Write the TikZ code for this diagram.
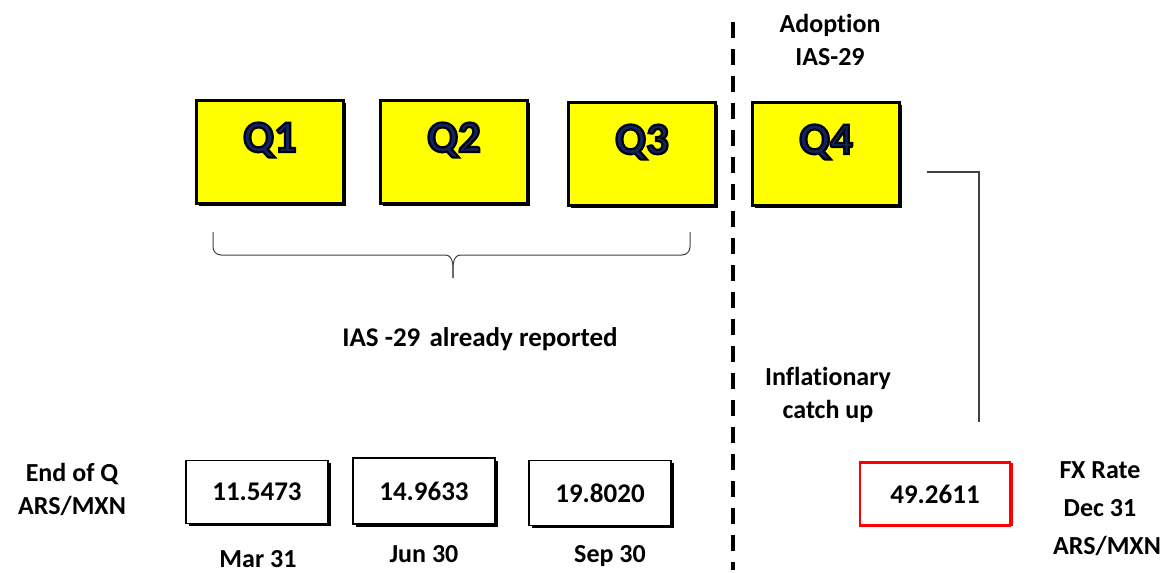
\documentclass[tikz,border=0pt]{standalone}
\usepackage{fontspec}
\setmainfont{Carlito}[Ligatures=NoCommon]
\usetikzlibrary{shadows}
\definecolor{qnavy}{RGB}{16,36,96}
\definecolor{qyellow}{RGB}{255,255,0}
\tikzset{
  qbox/.style={draw=black, line width=3pt, fill=qyellow, minimum width=147pt, minimum height=103pt, inner sep=0pt,
    drop shadow={shadow xshift=2.5pt, shadow yshift=-2.5pt, fill=black, opacity=1},
    font=\bfseries\fontsize{45}{45}\selectfont, text height=28pt, text depth=28pt},
  vbox/.style={draw=black, line width=1.5pt, fill=white, minimum width=142pt, minimum height=63pt, inner sep=0pt,
    drop shadow={shadow xshift=2.5pt, shadow yshift=-2.5pt, fill=black, opacity=1},
    font=\bfseries\fontsize{27}{27}\selectfont},
  rbox/.style={draw=red, line width=2.2pt, fill=white, minimum width=150pt, minimum height=63pt, inner sep=0pt,
    drop shadow={shadow xshift=2.5pt, shadow yshift=0pt, fill=red, opacity=1},
    font=\bfseries\fontsize{27}{27}\selectfont},
  lbl/.style={align=center, inner sep=0pt, font=\bfseries\fontsize{26}{33}\selectfont},
  thinline/.style={draw=black!75, line width=1.2pt},
  divider/.style={draw=black, line width=4pt, dash pattern=on 16pt off 11pt},
}
\newcommand{\qtext}[1]{\textcolor{qnavy}{\special{pdf:literal direct 2 Tr 2.2 w 0 0 0 RG}#1\special{pdf:literal direct 0 Tr}}}
\begin{document}
\begin{tikzpicture}[x=1pt,y=-1pt]
\useasboundingbox (0,0) rectangle (1173,573);
% quarter boxes
\node[qbox] (q1) at (270,152) {\qtext{Q1}};
\node[qbox] (q2) at (454,152) {\qtext{Q2}};
\node[qbox] (q3) at (642,154) {\qtext{Q3}};
\node[qbox] (q4) at (826,154) {\qtext{Q4}};
% divider
\coordinate (dtop) at (733,22);
\coordinate (dbot) at (733,570);
\draw[divider] (dtop) -- (dbot);
% adoption label
\node[lbl] (adopt) at (830,40) {Adoption\\IAS-29};
% brace
\coordinate (bl) at (213,232);
\coordinate (br) at (690,232);
\coordinate (btip) at (453,278);
\draw[thinline, line width=1pt] (bl) -- (213,247) to[out=-90,in=180] (221,255) -- (445,255) to[out=0,in=90] (btip);
\draw[thinline, line width=1pt] (br) -- (690,247) to[out=-90,in=0] (682,255) -- (461,255) to[out=180,in=90] (btip);
\node[lbl, font=\bfseries\fontsize{27}{33}\selectfont] (reported) at (480,339) {IAS -29\hspace{3pt} already reported};
% inflationary
\node[lbl] (infl) at (828,395) {Inflationary\\catch up};
% connector from Q4 side
\coordinate (cstart) at (927,172);
\coordinate (cend) at (979,422);
\draw[thinline] (cstart) -| (cend);
% value boxes
\node[lbl] (endq) at (72,489) {End of Q\\ARS/MXN};
\node[vbox] (v1) at (257,492) {11.5473};
\node[vbox, minimum height=66pt] (v2) at (424,491) {14.9633};
\node[vbox, minimum height=65pt] (v3) at (600,493) {19.8020};
\node[rbox] (v4) at (935,494) {49.2611};
\node[lbl] (m1) at (258,559) {Mar 31};
\node[lbl] (m2) at (424,554) {Jun 30};
\node[lbl] (m3) at (610,556) {Sep 30};
\node[lbl, align=center, font=\bfseries\fontsize{26}{38}\selectfont] (fx) at (1100,509) {FX Rate\\Dec 31\\\hspace*{14pt}ARS/MXN};
\end{tikzpicture}
\end{document}
